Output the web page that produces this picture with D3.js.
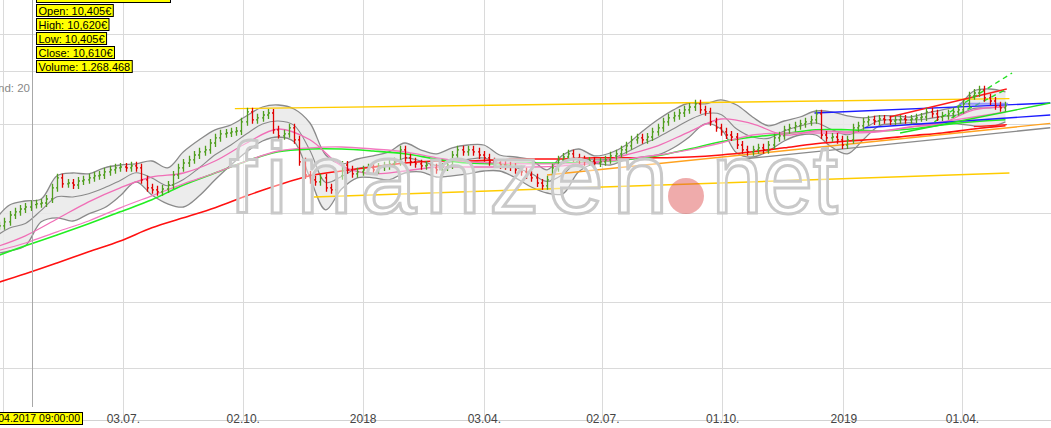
<!DOCTYPE html>
<html><head><meta charset="utf-8">
<script src="https://cdn.jsdelivr.net/npm/d3@7"></script>
<style>
html,body{margin:0;padding:0;background:#fff;overflow:hidden}
svg{display:block;font-family:"Liberation Sans",Arial,sans-serif}
</style>
</head><body>
<svg id="c" width="1051" height="428"></svg>
<script>
// ---------- DATA ----------
const barStart = "2017-03-31", barStepDays = 4;
const closes = [10.08,10.18,10.35,10.43,10.50,10.55,10.61,10.63,10.65,10.75,
11.03,11.28,11.13,11.15,11.10,11.20,11.23,11.28,11.33,11.35,
11.43,11.48,11.53,11.55,11.53,11.58,11.53,11.23,11.03,10.98,
10.93,11.00,11.10,11.35,11.53,11.65,11.73,11.85,11.93,11.98,
12.15,12.28,12.38,12.40,12.43,12.45,12.68,12.93,12.73,12.78,
12.85,12.90,12.48,12.33,12.38,12.53,12.23,11.68,11.35,11.23,
11.18,11.28,11.03,10.98,11.33,11.60,11.48,11.38,11.43,11.48,
11.53,11.48,11.55,11.58,11.63,11.68,11.98,11.78,11.68,11.63,
11.58,11.60,11.53,11.48,11.55,11.60,11.85,11.98,11.93,11.98,
11.93,11.85,11.78,11.68,11.65,11.60,11.58,11.55,11.48,11.43,
11.35,11.28,11.15,11.08,11.23,11.53,11.73,11.80,11.88,11.78,
11.73,11.68,11.70,11.65,11.68,11.73,11.83,11.88,11.98,12.08,
12.23,12.28,12.23,12.30,12.43,12.53,12.68,12.78,12.83,12.90,
12.98,13.05,13.13,12.98,12.93,12.68,12.53,12.43,12.35,12.30,
12.10,11.98,11.93,11.98,12.03,11.98,12.10,12.28,12.33,12.48,
12.53,12.58,12.63,12.68,12.73,12.88,12.35,12.28,12.30,12.23,
12.10,12.23,12.53,12.58,12.68,12.73,12.70,12.75,12.73,12.70,
12.73,12.75,12.73,12.75,12.78,12.80,12.93,12.88,12.80,12.83,
12.88,12.93,12.98,13.13,13.33,13.40,13.48,13.28,13.20,13.08,
13.03,13.08];

const bandStart = "2017-03-27", bandStepDays = 12;
const bandUpper = [10.18,10.60,10.70,10.75,11.33,11.40,11.38,11.53,11.60,11.63,11.70,11.53,11.93,12.23,12.48,12.60,12.83,13.05,13.10,13.00,12.65,11.85,11.63,11.75,11.83,11.93,12.15,11.98,11.88,12.03,12.10,12.10,11.85,11.80,11.73,11.48,11.85,12.00,11.83,11.90,12.10,12.43,12.73,12.98,13.15,13.13,13.23,13.10,12.80,12.58,12.70,12.80,12.95,12.93,12.83,12.78,12.83,12.83,12.80,12.90,12.98,13.08,13.45,13.50,13.43];
const bandLower = [9.38,9.45,9.58,10.18,10.28,10.20,10.38,10.53,10.83,11.18,10.85,10.63,10.55,10.83,11.23,11.60,11.93,12.20,12.30,12.18,11.28,10.48,11.00,11.28,11.28,11.23,11.40,11.43,11.30,11.33,11.38,11.45,11.45,11.28,11.05,10.90,10.88,11.43,11.63,11.60,11.73,11.80,11.85,12.03,12.30,12.63,12.50,11.90,11.80,11.95,12.20,12.35,12.35,12.05,11.88,12.23,12.58,12.63,12.65,12.60,12.65,12.63,12.58,12.55,12.68];

const maStart = "2017-03-27", maStepDays = 24;
const ma38  = [9.53,9.83,10.25,10.68,11.03,11.30,11.40,11.70,12.15,12.50,12.23,11.58,11.38,11.45,11.55,11.55,11.55,11.55,11.58,11.65,11.85,12.08,12.43,12.75,12.63,12.35,12.45,12.43,12.45,12.55,12.65,12.98,13.05];
const ma50  = [9.43,9.65,9.93,10.20,10.53,10.83,11.13,11.40,11.70,11.95,12.03,12.05,12.00,11.93,11.78,11.68,11.65,11.63,11.63,11.68,11.75,11.85,11.98,12.15,12.35,12.40,12.40,12.40,12.43,12.55,12.68,12.80,12.93];
const ma100 = [9.30,9.58,9.85,10.13,10.43,10.73,11.10,11.40,11.70,11.93,12.00,12.00,11.95,11.88,11.75,11.65,11.63,11.65,11.65,11.68,11.73,11.83,12.00,12.18,12.30,12.38,12.48,12.48,12.45,12.50,12.60,12.68,12.73];
const ma200 = [8.63,8.88,9.15,9.43,9.70,10.03,10.28,10.53,10.83,11.10,11.33,11.45,11.55,11.65,11.70,11.70,11.73,11.75,11.75,11.78,11.78,11.78,11.80,11.85,11.93,12.03,12.13,12.20,12.25,12.33,12.40,12.50,12.58];

const tickDates  = ["2017-04-03","2017-07-03","2017-10-02","2018-01-01","2018-04-03","2018-07-02","2018-10-01","2019-01-01","2019-04-01"];
const tickLabels = ["","03.07.","02.10.","2018","03.04.","02.07.","01.10.","2019","01.04."];
const gridPrices = [14.88,13.95,12.63,10.40,8.18,6.53];

const trendStarts = [["2017-09-26",13.01],["2017-11-25",10.80],["2018-05-21",11.35],["2018-10-11",11.73],["2018-12-10",12.90],["2019-01-17",12.53],["2019-02-05",12.80],["2019-04-10",12.56],["2019-02-13",12.40],["2019-03-11",12.68],["2019-03-24",12.78],["2019-03-30",13.13]];
const trendEnds   = [["2019-05-07",13.26],["2019-05-07",11.40],["2019-06-07",12.64],["2019-06-07",12.53],["2019-06-07",13.15],["2019-06-07",12.85],["2019-05-05",13.50],["2019-05-05",12.61],["2019-06-07",13.15],["2019-05-09",13.90],["2019-05-05",13.50],["2019-05-06",13.13]];
const trendColors = ["#ffcc00","#ffcc00","#ffa21f","#8a8a8a","#1c1cff","#1c1cff","#ff1c1c","#ff1c1c","#22e022","#22e022","#22e022","#7a7aff"];
const trendDashed = [false,false,false,false,false,false,false,false,false,true,true,false];

const infoLabels = ["Open: 10,405€","High: 10,620€","Low: 10,405€","Close: 10,610€","Volume: 1.268.468"];
const cursorDate = "2017-04-25", cursorLabel = "25.04.2017 09:00:00";
const indicatorLabel = "Bollinger Band: 20";

// ---------- SCALES ----------
const W = 1051, H = 428;
const parse = d3.utcParse("%Y-%m-%d");
const x = d3.scaleUtc().domain([parse("2017-04-03"), parse("2019-04-01")]).range([3, 962]);
const y = d3.scaleLinear().domain([15.725, 5.025]).range([0, H]);
const seq = (start, step, arr) => arr.map((v, i) => ({d: d3.utcDay.offset(parse(start), i * step), v}));

const svg = d3.select("#c");
svg.append("rect").attr("width", W).attr("height", H).attr("fill", "#fff");

// grid
const gridG = svg.append("g").attr("stroke", "#dadada").attr("stroke-width", 1).attr("shape-rendering", "crispEdges");
gridG.selectAll(".h").data(gridPrices).join("line")
  .attr("x1", 0).attr("x2", W).attr("y1", d => Math.round(y(d)) + 0.5).attr("y2", d => Math.round(y(d)) + 0.5);
const tks = tickDates.map(parse);
gridG.selectAll(".v").data(tks).join("line")
  .attr("x1", d => Math.round(x(d)) + 0.5).attr("x2", d => Math.round(x(d)) + 0.5).attr("y1", 0).attr("y2", 420);
// bottom axis
const xAxis = d3.axisBottom(x).tickValues(tks).tickFormat((d, i) => tickLabels[i]).tickSize(0).tickPadding(0);
const axG = svg.append("g").attr("transform", "translate(0,420)");
axG.append("line").attr("x1", 0).attr("x2", W).attr("y1", 0.5).attr("y2", 0.5).attr("stroke", "#d2d2d2");
axG.call(xAxis);
axG.select(".domain").remove();
axG.selectAll("text").attr("font-size", 12).attr("fill", "#444").attr("dy", 0).attr("y", 3)
  .attr("font-family", "Liberation Sans, Arial, sans-serif");

// Bollinger band
const bu = seq(bandStart, bandStepDays, bandUpper);
const bl = seq(bandStart, bandStepDays, bandLower);
const bandData = bu.map((p, i) => ({d: p.d, u: p.v, l: bl[i].v}));
const curve = d3.curveCatmullRom.alpha(0.5);
svg.append("path").datum(bandData)
  .attr("d", d3.area().curve(curve).x(d => x(d.d)).y0(d => y(d.l)).y1(d => y(d.u)))
  .attr("fill", "#e9e9e9").attr("opacity", 0.85);
const lineBand = k => d3.line().curve(curve).x(d => x(d.d)).y(d => y(d[k]));
["u", "l"].forEach(k => svg.append("path").datum(bandData).attr("d", lineBand(k))
  .attr("fill", "none").attr("stroke", "#8a8a8a").attr("stroke-width", 1.3));
svg.append("path").datum(bandData)
  .attr("d", d3.line().curve(curve).x(d => x(d.d)).y(d => y((d.u + d.l) / 2)))
  .attr("fill", "none").attr("stroke", "#8a8a8a").attr("stroke-width", 1.1);

// moving averages
const maLine = d3.line().curve(d3.curveCatmullRom.alpha(0.5)).x(d => x(d.d)).y(d => y(d.v));
[[ma200, "#ff1010", 1.6], [ma100, "#22ee22", 1.6], [ma50, "#f27ac0", 1.3], [ma38, "#f06eb6", 1.3]].forEach(([arr, c, w]) => {
  svg.append("path").datum(seq(maStart, maStepDays, arr)).attr("d", maLine)
    .attr("fill", "none").attr("stroke", c).attr("stroke-width", w);
});

// trend lines
const trendG = svg.append("g");
trendStarts.forEach((s, i) => {
  const e = trendEnds[i];
  trendG.append("line")
    .attr("x1", x(parse(s[0]))).attr("y1", y(s[1]))
    .attr("x2", x(parse(e[0]))).attr("y2", y(e[1]))
    .attr("stroke", trendColors[i]).attr("stroke-width", i === 11 ? 2 : 1.4)
    .attr("stroke-opacity", i === 11 ? 0.75 : 1)
    .attr("stroke-dasharray", trendDashed[i] ? "5,4" : null);
});

// OHLC bars
const bars = closes.map((c, i) => ({d: d3.utcDay.offset(parse(barStart), i * barStepDays), o: i ? closes[i - 1] : c, c}));
const barG = svg.append("g").attr("stroke-width", 1.3);
barG.selectAll("path").data(bars).join("path")
  .attr("stroke", d => d.c >= d.o ? "#4f9e1e" : "#e00000")
  .attr("fill", "none")
  .attr("d", d => {
    const bx = Math.round(x(d.d)) + 0.5;
    const top = y(Math.max(d.o, d.c)) - 4, bot = y(Math.min(d.o, d.c)) + 4;
    return `M${bx},${top}V${bot}M${bx - 1.5},${y(d.o)}H${bx}M${bx},${y(d.c)}H${bx + 1.5}`;
  });

// watermark
const wm = svg.append("g").attr("font-family", "Liberation Sans, Arial, sans-serif").attr("font-size", 100)
  .attr("fill", "#ffffff").attr("fill-opacity", 0.45).attr("stroke", "#c9c9c9").attr("stroke-width", 3);
wm.append("text").attr("x", 229).attr("y", 213).attr("textLength", 439).attr("lengthAdjust", "spacing").text("finanzen");
wm.append("text").attr("x", 712).attr("y", 213).attr("textLength", 126).attr("lengthAdjust", "spacingAndGlyphs").text("net");
svg.append("circle").attr("cx", 686).attr("cy", 196).attr("r", 18).attr("fill", "#dc4444").attr("fill-opacity", 0.45);

// cursor line
const cx = Math.round(x(parse(cursorDate))) + 0.5;
svg.append("line").attr("x1", cx).attr("x2", cx).attr("y1", 0).attr("y2", 407).attr("stroke", "#a8a8a8").attr("stroke-width", 1);

// indicator label
svg.append("text").attr("x", 30).attr("y", 92).attr("text-anchor", "end").attr("font-size", 11.5).attr("fill", "#888").text(indicatorLabel);

// info boxes
svg.append("rect").attr("x", 36.5).attr("y", -10.5).attr("width", 134).attr("height", 13).attr("fill", "#ffff00").attr("stroke", "#000");
infoLabels.forEach((t, i) => {
  const g = svg.append("g").attr("transform", `translate(36.5,${4.5 + i * 14})`);
  const r = g.append("rect").attr("height", 12).attr("fill", "#ffff00").attr("stroke", "#000");
  const tx = g.append("text").attr("x", 2).attr("y", 10).attr("font-size", 11).attr("fill", "#000").text(t);
  r.attr("width", tx.node().getComputedTextLength() + 4);
});

// cursor date box
const dg = svg.append("g");
const dr = dg.append("rect").attr("fill", "#ffff00").attr("stroke", "#000");
const dt = dg.append("text").attr("x", 80).attr("y", 422).attr("text-anchor", "end").attr("font-size", 10.5).attr("fill", "#000").text(cursorLabel);
const tl = dt.node().getComputedTextLength();
dr.attr("x", 80 - tl - 3 + 0.5).attr("y", 412.5).attr("width", tl + 5).attr("height", 12);
</script>
</body></html>
